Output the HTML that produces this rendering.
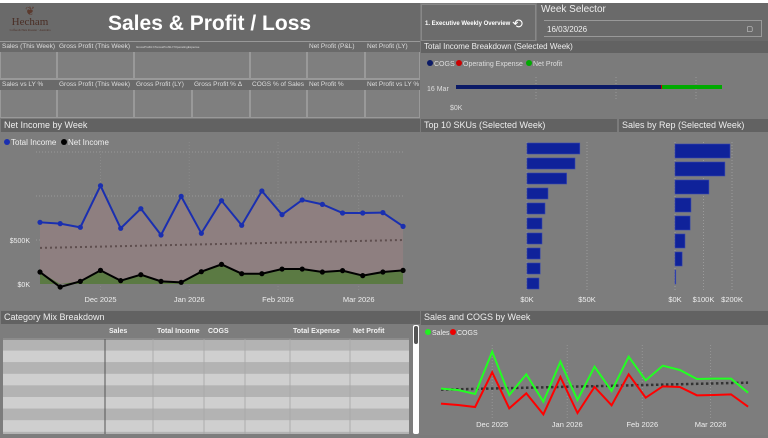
<!DOCTYPE html>
<html><head><meta charset="utf-8">
<style>
*{box-sizing:border-box;margin:0;padding:0}
body{width:768px;height:438px;overflow:hidden;background:#fff;font-family:"Liberation Sans",sans-serif;position:relative}
.a{position:absolute}
.hdr{position:absolute;background:#626262;color:#eee;font-size:9px;padding-left:3px;line-height:13px;white-space:nowrap;overflow:hidden}
.kh{position:absolute;background:#6a6a6a;color:#ddd;font-size:6.5px;line-height:10px;padding-left:2px;white-space:nowrap;overflow:hidden}
.kb{position:absolute;background:#7f7f7f;border:1px solid #999}
svg text{font-family:"Liberation Sans",sans-serif}
</style></head><body>
<div class="a" style="left:0;top:3px;width:768px;height:435px;background:#7b7b7b"></div>
<div class="a" style="left:0;top:3px;width:420px;height:38px;background:#6a6a6a"></div>
<div class="a" style="left:8px;top:6px;width:44px;height:32px;text-align:center;color:#4a2e25;font-family:'Liberation Serif',serif;font-size:11px;line-height:11px">
<div style="font-size:12px;color:#5b3a2e">❦</div><div>Hecham</div><div style="font-size:3px;line-height:4px">Coffee &amp; Nuts Roaster · Australia</div></div>
<div class="a" style="left:108px;top:10px;color:#fff;font-weight:bold;font-size:21px;line-height:28px">Sales &amp; Profit / Loss</div>
<div id="kpis"></div>
<div class="a" style="left:421px;top:4px;width:115px;height:37px;background:#6c6c6c;border:1px solid #888;color:#fff;font-size:6px;font-weight:bold;line-height:37px;padding-left:3px">1. Executive Weekly Overview <span style="font-size:13px;font-weight:normal;vertical-align:middle">⟲</span></div>
<div class="a" style="left:537px;top:3px;width:231px;height:38px;background:#6a6a6a"></div>
<div class="a" style="left:541px;top:4px;color:#eee;font-size:10px">Week Selector</div>
<div class="a" style="left:544px;top:20px;width:218px;height:17px;border:1px solid #999;border-left:none;color:#eee;font-size:8px;line-height:17px;padding-left:3px">16/03/2026<span style="position:absolute;right:8px;top:0;font-size:7px">▢</span></div>
<div class="hdr" style="left:421px;top:41px;width:347px;height:12px;line-height:12px;font-size:8px">Total Income Breakdown (Selected Week)</div>
<svg class="a" style="left:420px;top:53px" width="348" height="65">
<circle cx="10" cy="10" r="3" fill="#0b1a66"/><text x="14" y="13" font-size="7" fill="#ddd">COGS</text>
<circle cx="39" cy="10" r="3" fill="#c00"/><text x="43" y="13" font-size="7" fill="#ddd">Operating Expense</text>
<circle cx="109" cy="10" r="3" fill="#0a0"/><text x="113" y="13" font-size="7" fill="#ddd">Net Profit</text>
<g id="brk"></g>
<text x="7" y="38" font-size="7" fill="#ddd">16 Mar</text>
<text x="30" y="57" font-size="7" fill="#ddd">$0K</text>
</svg>
<div class="hdr" style="left:1px;top:119px;width:419px;height:13px">Net Income by Week</div>
<svg class="a" id="ni" style="left:0;top:132px" width="420" height="178"></svg>
<div class="hdr" style="left:421px;top:119px;width:196px;height:13px">Top 10 SKUs (Selected Week)</div>
<svg class="a" id="sku" style="left:420px;top:132px" width="198" height="178"></svg>
<div class="hdr" style="left:619px;top:119px;width:149px;height:13px">Sales by Rep (Selected Week)</div>
<svg class="a" id="rep" style="left:618px;top:132px" width="150" height="178"></svg>
<div class="hdr" style="left:1px;top:311px;width:419px;height:13px">Category Mix Breakdown</div>
<svg class="a" id="tbl" style="left:0;top:324px" width="420" height="114"></svg>
<div class="hdr" style="left:421px;top:311px;width:347px;height:14px">Sales and COGS by Week</div>
<svg class="a" id="sc" style="left:420px;top:0" width="348" height="438"></svg>
<script>
const NS='http://www.w3.org/2000/svg';
function mk(p,t,a){const e=document.createElementNS(NS,t);for(const k in a)e.setAttribute(k,a[k]);p.appendChild(e);return e;}
const kpiRow1=['Sales (This Week)','Gross Profit (This Week)','GrossProfitLY/GrossProfitLY/OperatingExpense','','Net Profit (P&L)','Net Profit (LY)'];
const kpiRow2=['Sales vs LY %','Gross Profit (This Week)','Gross Profit (LY)','Gross Profit % Δ','COGS % of Sales','Net Profit %','Net Profit vs LY %'];
const r1x=[0,57,134,250,307,365,420], r2x=[0,57,134,192,250,307,365,420];
const kp=document.getElementById('kpis');
function card(x0,x1,y,h,label,i,row){
  const b=document.createElement('div');b.className='kb';b.style.cssText=`left:${x0}px;top:${y}px;width:${x1-x0}px;height:${h}px`;
  
  
  kp.appendChild(b);
  const l=document.createElement('div');l.className='kh';l.style.cssText=`left:${x0}px;top:${y+1}px;width:${x1-x0}px;height:10px;${label.length>30?'font-size:3px':''}`;l.textContent=label;
  
  
  kp.appendChild(l);
}
kpiRow1.forEach((t,i)=>card(r1x[i],r1x[i+1],41,38,t,i,1));
kpiRow2.forEach((t,i)=>card(r2x[i],r2x[i+1],79,39,t,i,2));

const brkCats=['COGS','Operating Expense','Net Profit'];
const brkVals=[205,1,60];
const brkColors=['#0b1a66','#c00','#0a0'];
{const g=document.getElementById('brk');let x=36;
 [100,200,300].forEach((v,i)=>mk(g,'line',{x1:36+i*80+80,x2:36+i*80+80,y1:24,y2:48,stroke:'#999','stroke-dasharray':'1 2'}));
 brkVals.forEach((v,i)=>{const r=mk(g,'rect',{x:x,y:32,width:v,height:4,fill:brkColors[i]});
 
 x+=v;});}

const niTotal=[701,686,644,1117,633,856,557,996,576,947,667,1057,788,955,905,807,807,811,655];
const niNet=[136,-34,30,155,38,106,30,19,140,223,117,117,170,170,136,152,95,136,155];
const niTrend=[410,500];
const niTicks=[0,500];
const niMonths=[['Dec 2025',3],['Jan 2026',7.4],['Feb 2026',11.8],['Mar 2026',15.8]];
{const s=document.getElementById('ni');const X=i=>40+i*20.17,Y=v=>152-v*44/500;
 mk(s,'rect',{x:0,y:0,width:420,height:178,fill:'#7d7d7d'});
 mk(s,'circle',{cx:7,cy:10,r:3,fill:'#1a2fb0'});const t1=mk(s,'text',{x:11,y:13,'font-size':8,fill:'#eee'});t1.textContent='Total Income';
 mk(s,'circle',{cx:64,cy:10,r:3,fill:'#000'});const t2=mk(s,'text',{x:68,y:13,'font-size':8,fill:'#eee'});t2.textContent='Net Income';
 [500,1000,1500].forEach(v=>mk(s,'line',{x1:36,x2:405,y1:Y(v),y2:Y(v),stroke:'#999','stroke-dasharray':'1 2'}));
 niMonths.forEach(m=>mk(s,'line',{x1:X(m[1]),x2:X(m[1]),y1:10,y2:160,stroke:'#8a8a8a','stroke-dasharray':'1 2'}));
 const n=niTotal.length;
 let d='M'+X(0)+','+Y(0);niTotal.forEach((v,i)=>d+=' L'+X(i)+','+Y(v));d+=' L'+X(n-1)+','+Y(0)+'Z';
 const a=mk(s,'path',{d:d,fill:'#8e7f80'});
 d='M'+X(0)+','+Y(0);niNet.forEach((v,i)=>d+=' L'+X(i)+','+Y(Math.max(v,0)));d+=' L'+X(n-1)+','+Y(0)+'Z';
 const b=mk(s,'path',{d:d,fill:'#5b7a43'});
 const tr=mk(s,'line',{x1:X(0),x2:X(n-1),y1:Y(niTrend[0]),y2:Y(niTrend[1]),stroke:'#5e4e4e','stroke-width':2,'stroke-dasharray':'2 3'});
 
 [[niTotal,'#1a2fb0','total-income'],[niNet,'#000','net-income']].forEach(([arr,c,nm])=>{
  const l=mk(s,'polyline',{points:arr.map((v,i)=>X(i)+','+Y(v)).join(' '),fill:'none',stroke:c,'stroke-width':2});
  
  arr.forEach((v,i)=>{const p=mk(s,'circle',{cx:X(i),cy:Y(v),r:2.6,fill:c});});
 });
 niTicks.forEach(v=>{const t=mk(s,'text',{x:30,y:Y(v)+3,'font-size':7,fill:'#eee','text-anchor':'end'});t.textContent='$'+v+'K';});
 niMonths.forEach(m=>{const t=mk(s,'text',{x:X(m[1]),y:170,'font-size':7.5,fill:'#eee','text-anchor':'middle'});t.textContent=m[0];});
}
const skuVals=[44,40,33,17.5,15,12.5,12.5,11,11,10];
const skuTicks=[0,50];
{const s=document.getElementById('sku');const X=v=>107+v*60/50;
 mk(s,'rect',{x:0,y:0,width:198,height:178,fill:'#7d7d7d'});
 skuTicks.forEach(v=>{mk(s,'line',{x1:X(v),x2:X(v),y1:10,y2:160,stroke:'#9a9a9a','stroke-dasharray':'1 2'});
  const t=mk(s,'text',{x:X(v),y:170,'font-size':7.5,fill:'#eee','text-anchor':'middle'});t.textContent='$'+v+'K';});
 skuVals.forEach((v,i)=>{const r=mk(s,'rect',{x:X(0),y:11+i*15,width:X(v)-X(0),height:11,fill:'#0f229a',stroke:'#3848b0','stroke-width':.6});
  });}
const repVals=[193,175,119,56,53,35,25,1];
const repTicks=[0,100,200];
{const s=document.getElementById('rep');const X=v=>57+v*28.5/100;
 mk(s,'rect',{x:0,y:0,width:150,height:178,fill:'#7d7d7d'});
 repTicks.forEach(v=>{mk(s,'line',{x1:X(v),x2:X(v),y1:10,y2:160,stroke:'#9a9a9a','stroke-dasharray':'1 2'});
  const t=mk(s,'text',{x:X(v),y:170,'font-size':7.5,fill:'#eee','text-anchor':'middle'});t.textContent='$'+v+'K';});
 repVals.forEach((v,i)=>{const r=mk(s,'rect',{x:X(0),y:12+i*18,width:Math.max(X(v)-X(0),.8),height:14,fill:'#0f229a',stroke:'#3848b0','stroke-width':.6});
  });}
const tblCols=[['Sales',109],['Total Income',157],['COGS',208],['Total Expense',293],['Net Profit',353]];
{const s=document.getElementById('tbl');
 mk(s,'rect',{x:0,y:0,width:420,height:114,fill:'#7d7d7d'});
 tblCols.forEach(c=>{const t=mk(s,'text',{x:c[1],y:9,'font-size':7,'font-weight':'bold',fill:'#f2f2f2'});t.textContent=c[0];
  });
 mk(s,'rect',{x:3,y:14,width:406,height:96,fill:'#b3b3b3'});
 for(let i=0;i<8;i++){const r=mk(s,'rect',{x:3,y:15+i*11.6,width:406,height:11.6,fill:i%2?'#cfcfcf':'#b3b3b3'});
  }
 mk(s,'line',{x1:3,x2:409,y1:15,y2:15,stroke:'#666','stroke-width':1});
 [153,204,245,290,350].forEach(x=>mk(s,'line',{x1:x,x2:x,y1:15,y2:110,stroke:'#a6a6a6','stroke-width':.8}));
 mk(s,'line',{x1:105,x2:105,y1:15,y2:110,stroke:'#555','stroke-width':1});
 const sb=mk(s,'rect',{x:413,y:1,width:6,height:109,rx:2,fill:'#fff'});
 mk(s,'rect',{x:414,y:2,width:4,height:18,rx:2,fill:'#555'});
}
const scSales=[470,450,390,1025,375,685,275,875,300,800,435,950,595,815,750,615,620,620,410];
const scCogs=[245,225,195,715,175,400,85,645,105,495,220,685,335,505,495,370,375,385,200];
const scTrend=[455,560];
const scMonths=[['Dec 2025',3],['Jan 2026',7.4],['Feb 2026',11.8],['Mar 2026',15.8]];
{const s=document.getElementById('sc');const X=i=>21+i*17.06,Y=v=>420-v/15;
 mk(s,'rect',{x:0,y:325,width:348,height:110,fill:'#7d7d7d'});
 mk(s,'circle',{cx:8,cy:332,r:3,fill:'#2e2'});let t=mk(s,'text',{x:12,y:335,'font-size':7,fill:'#eee'});t.textContent='Sales';
 mk(s,'circle',{cx:33,cy:332,r:3,fill:'#e00'});t=mk(s,'text',{x:37,y:335,'font-size':7,fill:'#eee'});t.textContent='COGS';
 scMonths.forEach(m=>mk(s,'line',{x1:X(m[1]),x2:X(m[1]),y1:345,y2:418,stroke:'#959595','stroke-dasharray':'1 2'}));
 const n=scSales.length;
 const tr=mk(s,'line',{x1:X(0),x2:X(n-1),y1:Y(scTrend[0]),y2:Y(scTrend[1]),stroke:'#333','stroke-width':2.5,'stroke-dasharray':'2.5 2.5'});
 
 const c=mk(s,'polyline',{points:scCogs.map((v,i)=>X(i)+','+Y(v)).join(' '),fill:'none',stroke:'#f00','stroke-width':2});
 
 const g=mk(s,'polyline',{points:scSales.map((v,i)=>X(i)+','+Y(v)).join(' '),fill:'none',stroke:'#2f2','stroke-width':2});
 
 scMonths.forEach(m=>{const t=mk(s,'text',{x:X(m[1]),y:427,'font-size':7.5,fill:'#eee','text-anchor':'middle'});t.textContent=m[0];});
}
</script>
</body></html>
